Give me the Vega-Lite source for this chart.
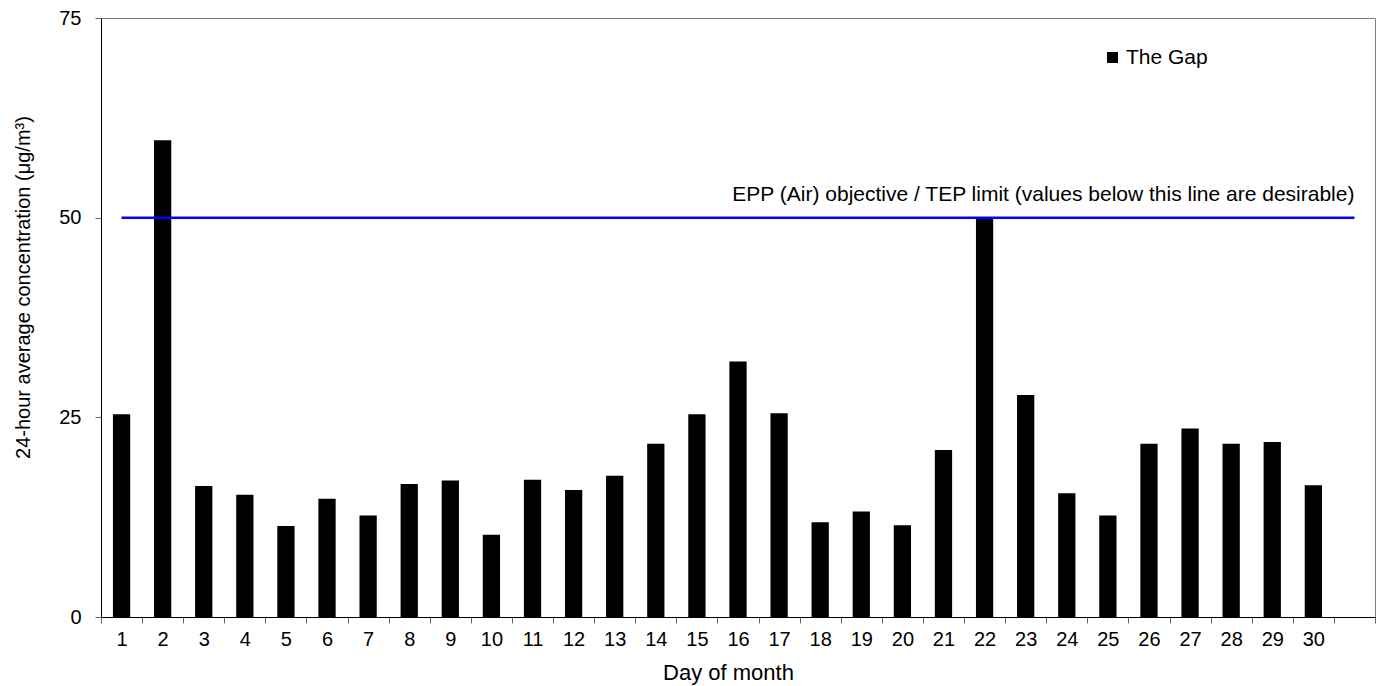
{
  "$schema": "https://vega.github.io/schema/vega-lite/v6.json",
  "width": 1274,
  "height": 599,
  "autosize": {"type": "none"},
  "padding": {"left": 101, "top": 18, "right": 3, "bottom": 69},
  "background": "white",
  "config": {
    "font": "Liberation Sans",
    "view": {"stroke": "#808080", "strokeWidth": 1},
    "axis": {"grid": false, "domainColor": "black", "tickColor": "#666666", "labelColor": "black", "titleColor": "black", "labelFont": "Liberation Sans", "titleFont": "Liberation Sans", "titleFontWeight": "normal"},
    "legend": {"labelFont": "Liberation Sans"}
  },
  "encoding": {
    "x": {
      "field": "day",
      "type": "ordinal",
      "scale": {"domain": [1,2,3,4,5,6,7,8,9,10,11,12,13,14,15,16,17,18,19,20,21,22,23,24,25,26,27,28,29,30,31], "paddingInner": 0, "paddingOuter": 0},
      "axis": {
        "title": "Day of month",
        "labelAngle": 0,
        "tickBand": "extent",
        "tickSize": 6,
        "labelFontSize": 20,
        "labelPadding": 6,
        "labelExpr": "datum.value == 31 ? '' : datum.label",
        "titleFontSize": 22,
        "titleX": 627,
        "titleY": 62,
        "titleBaseline": "alphabetic",
        "domainColor": "black"
      }
    },
    "y": {
      "field": "value",
      "type": "quantitative",
      "scale": {"domain": [0, 75], "nice": false, "zero": true},
      "axis": {
        "title": "24-hour average concentration (μg/m³)",
        "values": [0, 25, 50, 75],
        "tickSize": 6,
        "labelFontSize": 20,
        "labelPadding": 14,
        "titleFontSize": 20,
        "titleX": -78,
        "titleY": 269,
        "titleAlign": "center",
        "titleBaseline": "middle",
        "titleAngle": -90
      }
    }
  },
  "layer": [
    {
      "data": {
        "values": [
          {"day": 1, "value": 25.4, "series": "The Gap"},
          {"day": 2, "value": 59.7, "series": "The Gap"},
          {"day": 3, "value": 16.4, "series": "The Gap"},
          {"day": 4, "value": 15.3, "series": "The Gap"},
          {"day": 5, "value": 11.4, "series": "The Gap"},
          {"day": 6, "value": 14.8, "series": "The Gap"},
          {"day": 7, "value": 12.7, "series": "The Gap"},
          {"day": 8, "value": 16.65, "series": "The Gap"},
          {"day": 9, "value": 17.1, "series": "The Gap"},
          {"day": 10, "value": 10.3, "series": "The Gap"},
          {"day": 11, "value": 17.2, "series": "The Gap"},
          {"day": 12, "value": 15.9, "series": "The Gap"},
          {"day": 13, "value": 17.7, "series": "The Gap"},
          {"day": 14, "value": 21.7, "series": "The Gap"},
          {"day": 15, "value": 25.4, "series": "The Gap"},
          {"day": 16, "value": 32.0, "series": "The Gap"},
          {"day": 17, "value": 25.5, "series": "The Gap"},
          {"day": 18, "value": 11.85, "series": "The Gap"},
          {"day": 19, "value": 13.2, "series": "The Gap"},
          {"day": 20, "value": 11.5, "series": "The Gap"},
          {"day": 21, "value": 20.9, "series": "The Gap"},
          {"day": 22, "value": 49.9, "series": "The Gap"},
          {"day": 23, "value": 27.8, "series": "The Gap"},
          {"day": 24, "value": 15.5, "series": "The Gap"},
          {"day": 25, "value": 12.7, "series": "The Gap"},
          {"day": 26, "value": 21.7, "series": "The Gap"},
          {"day": 27, "value": 23.6, "series": "The Gap"},
          {"day": 28, "value": 21.7, "series": "The Gap"},
          {"day": 29, "value": 21.9, "series": "The Gap"},
          {"day": 30, "value": 16.5, "series": "The Gap"}
        ]
      },
      "mark": {"type": "bar", "width": {"band": 0.42}},
      "encoding": {
        "color": {
          "field": "series",
          "type": "nominal",
          "scale": {"range": ["black"]},
          "legend": {
            "title": null,
            "orient": "none",
            "legendX": 1001,
            "legendY": 29,
            "symbolType": "square",
            "symbolSize": 121,
            "symbolStrokeWidth": 0,
            "labelFontSize": 21,
            "labelOffset": 3,
            "labelColor": "black",
            "padding": 0
          }
        }
      }
    },
    {
      "data": {"values": [{"limit": 50, "from": 1, "to": 31, "note": "EPP (Air) objective / TEP limit (values below this line are desirable)"}]},
      "mark": {"type": "rule", "color": "#0000ff", "strokeWidth": 2.5},
      "encoding": {
        "x": {"field": "from", "type": "ordinal"},
        "x2": {"field": "to"},
        "y": {"field": "limit", "type": "quantitative"}
      }
    },
    {
      "data": {"values": [{"limit": 50, "to": 31, "note": "EPP (Air) objective / TEP limit (values below this line are desirable)"}]},
      "mark": {"type": "text", "align": "right", "baseline": "alphabetic", "dy": -17, "fontSize": 21, "color": "black", "font": "Liberation Sans"},
      "encoding": {
        "x": {"field": "to", "type": "ordinal"},
        "y": {"field": "limit", "type": "quantitative"},
        "text": {"field": "note"}
      }
    }
  ]
}
